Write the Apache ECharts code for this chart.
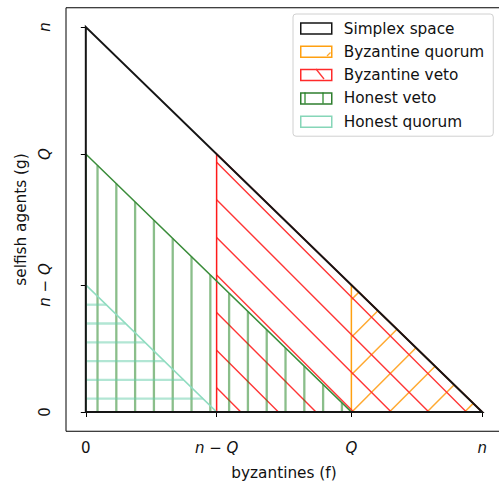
<!DOCTYPE html>
<html>
<head>
<meta charset="utf-8">
<script src="https://cdn.jsdelivr.net/npm/echarts@6/dist/echarts.min.js"></script>
<style>
  html, body { margin: 0; padding: 0; background: #fff; }
  #chart { width: 499px; height: 483px; }
</style>
</head>
<body>
<div id="chart"></div>
<script>
// ---- data ----
const n = 100;
const Q = 67;
const tickValues = [0, n - Q, Q, n];
const tickLabels = ['0', '{i|n} − {i|Q}', '{i|Q}', '{i|n}'];
const seriesNames = ['Simplex space', 'Byzantine quorum', 'Byzantine veto', 'Honest veto', 'Honest quorum'];
const simplexSpace = [[0, 0], [n, 0], [0, n]];
const byzantineQuorum = [[Q, 0], [n, 0], [Q, n - Q]];
const byzantineVeto = [[n - Q, 0], [n, 0], [n - Q, Q]];
const honestVeto = [[0, 0], [Q, 0], [0, Q]];
const honestQuorum = [[0, 0], [n - Q, 0], [0, n - Q]];

// ---- styles ----
const S = 18.8; // hatch spacing in px
const regionStyles = {
  'Simplex space':    { edge: '#151515', edgeW: 2, hatch: null },
  'Byzantine quorum': { edge: '#ffa010', edgeW: 1.5, hatch: { kind: 'slash', off: 2.8, color: '#ffa930', w: 1.5 } },
  'Byzantine veto':   { edge: '#ff1a1a', edgeW: 1.5, hatch: { kind: 'backslash', off: 4.6, color: '#ff3535', w: 1.4 } },
  'Honest veto':      { edge: '#3a8c3a', edgeW: 1.6, hatch: { kind: 'vertical', off: 11.7, color: 'rgba(30,130,30,0.52)', w: 2.3 } },
  'Honest quorum':    { edge: '#8fdcc0', edgeW: 1.6, hatch: { kind: 'horizontal', off: 13.3, color: 'rgba(102,205,170,0.5)', w: 2.3 } }
};
const legendColors = {
  'Simplex space': '#151515', 'Byzantine quorum': '#ffa010', 'Byzantine veto': '#ff2a2a',
  'Honest veto': '#2f7f2f', 'Honest quorum': '#86d6b8'
};

function clipLine(b, u, poly) {
  let cx = 0, cy = 0;
  poly.forEach(p => { cx += p[0]; cy += p[1]; });
  cx /= poly.length; cy /= poly.length;
  let tmin = -1e6, tmax = 1e6;
  for (let i = 0; i < poly.length; i++) {
    const A = poly[i], B = poly[(i + 1) % poly.length];
    let nx = -(B[1] - A[1]), ny = B[0] - A[0];
    if (nx * (cx - A[0]) + ny * (cy - A[1]) < 0) { nx = -nx; ny = -ny; }
    const c0 = nx * (b[0] - A[0]) + ny * (b[1] - A[1]);
    const c1 = nx * u[0] + ny * u[1];
    if (Math.abs(c1) < 1e-9) { if (c0 < 0) return null; continue; }
    const t = -c0 / c1;
    if (c1 > 0) tmin = Math.max(tmin, t); else tmax = Math.min(tmax, t);
  }
  if (tmax - tmin < 1) return null;
  return [[b[0] + u[0] * tmin, b[1] + u[1] * tmin], [b[0] + u[0] * tmax, b[1] + u[1] * tmax]];
}

function hatchSegments(poly, O, h) {
  let u, e, step;
  const r = Math.SQRT1_2;
  if (h.kind === 'vertical') { u = [0, 1]; e = [1, 0]; step = S; }
  else if (h.kind === 'horizontal') { u = [1, 0]; e = [0, -1]; step = S; }
  else if (h.kind === 'backslash') { u = [r, r]; e = [1, 0]; step = 2 * S; }
  else { u = [r, -r]; e = [1, 0]; step = 2 * S; }
  const segs = [];
  for (let k = -60; k <= 60; k++) {
    const d = h.off + k * step;
    const b = [O[0] + e[0] * d, O[1] + e[1] * d];
    const s = clipLine(b, u, poly);
    if (s) segs.push(s);
  }
  return segs;
}

const polys = {
  'Simplex space': simplexSpace, 'Byzantine quorum': byzantineQuorum, 'Byzantine veto': byzantineVeto,
  'Honest veto': honestVeto, 'Honest quorum': honestQuorum
};

function makeRender(name) {
  return function (params, api) {
    if (params.dataIndex !== 0) return null;
    const st = regionStyles[name];
    const pts = polys[name].map(p => api.coord(p));
    const O = api.coord([0, 0]);
    const children = [];
    if (st.hatch) {
      hatchSegments(pts, O, st.hatch).forEach(sg => {
        children.push({ type: 'line', shape: { x1: sg[0][0], y1: sg[0][1], x2: sg[1][0], y2: sg[1][1] },
          style: { stroke: st.hatch.color, lineWidth: st.hatch.w, fill: null } });
      });
    }
    children.push({ type: 'polygon', shape: { points: pts },
      style: { fill: 'none', stroke: st.edge, lineWidth: st.edgeW, lineJoin: 'miter' } });
    return { type: 'group', children: children };
  };
}

// drawing order: regions first, simplex outline on top
const drawOrder = ['Byzantine quorum', 'Byzantine veto', 'Honest veto', 'Honest quorum', 'Simplex space'];

const FONT = 'DejaVu Sans';
const rich = { i: { fontStyle: 'italic', fontFamily: FONT, fontSize: 15, color: '#111' } };
function labelFor(v) {
  const idx = tickValues.findIndex(t => Math.abs(t - v) < 1e-6);
  return idx >= 0 ? tickLabels[idx] : '';
}

// tiny hatch marks inside the legend swatches
function swatchLine(x1, y1, x2, y2, color, w) {
  return { type: 'line', z: 200, silent: true, shape: { x1: x1, y1: y1, x2: x2, y2: y2 }, style: { stroke: color, lineWidth: w } };
}

const chart = echarts.init(document.getElementById('chart'), null, { renderer: 'svg' });
chart.setOption({
  animation: false,
  backgroundColor: '#ffffff',
  textStyle: { fontFamily: FONT },
  grid: { left: 66, top: 7.75, width: 436, height: 423.5, show: true, borderColor: '#000', borderWidth: 1,
    backgroundColor: 'transparent', containLabel: false, outerBoundsMode: 'none' },
  xAxis: {
    type: 'value', min: -5, max: 105,
    name: 'byzantines (f)', nameLocation: 'middle', nameGap: 34,
    nameTextStyle: { fontFamily: FONT, fontSize: 15.3, color: '#111' },
    axisLine: { show: false },
    splitLine: { show: false },
    axisTick: { show: true, inside: false, length: 5, customValues: tickValues, lineStyle: { color: '#000', width: 1 } },
    axisLabel: { show: true, margin: 9, customValues: tickValues, formatter: labelFor, rich: rich,
      fontFamily: FONT, fontSize: 15, color: '#111' }
  },
  yAxis: {
    type: 'value', min: -5, max: 105,
    name: 'selfish agents (g)', nameLocation: 'middle', nameGap: 38, nameRotate: 90,
    nameTextStyle: { fontFamily: FONT, fontSize: 15.3, color: '#111' },
    axisLine: { show: false },
    splitLine: { show: false },
    axisTick: { show: true, inside: false, length: 5, customValues: tickValues, lineStyle: { color: '#000', width: 1 } },
    axisLabel: { show: true, margin: 14, rotate: 90, customValues: tickValues, formatter: labelFor, rich: rich,
      fontFamily: FONT, fontSize: 15, color: '#111' }
  },
  legend: {
    show: true, orient: 'vertical', left: 293, top: 14,
    padding: [7, 9, 7, 7], itemGap: 8.3, itemWidth: 31, itemHeight: 11,
    backgroundColor: '#fff', borderColor: '#d0d0d0', borderWidth: 1, borderRadius: 3,
    textStyle: { fontFamily: FONT, fontSize: 15.3, color: '#111', lineHeight: 15, padding: [0, 0, 0, 7] },
    data: seriesNames.map(nm => ({ name: nm, icon: 'rect',
      itemStyle: { color: 'rgba(0,0,0,0)', borderColor: legendColors[nm], borderWidth: 1.5 } }))
  },
  graphic: [
    swatchLine(327, 56, 330.5, 52.5, '#ffa930', 1.2),
    swatchLine(316, 69, 324, 79, '#ff3535', 1.3),
    swatchLine(305, 92.5, 305, 103.5, 'rgba(30,130,30,0.6)', 2),
    swatchLine(323, 92.5, 323, 103.5, 'rgba(30,130,30,0.6)', 2)
  ],
  series: drawOrder.map(nm => ({
    type: 'custom', name: nm, coordinateSystem: 'cartesian2d',
    renderItem: makeRender(nm), clip: false,
    encode: { x: 0, y: 1 },
    itemStyle: { color: legendColors[nm] },
    data: polys[nm]
  }))
});
</script>
</body>
</html>
